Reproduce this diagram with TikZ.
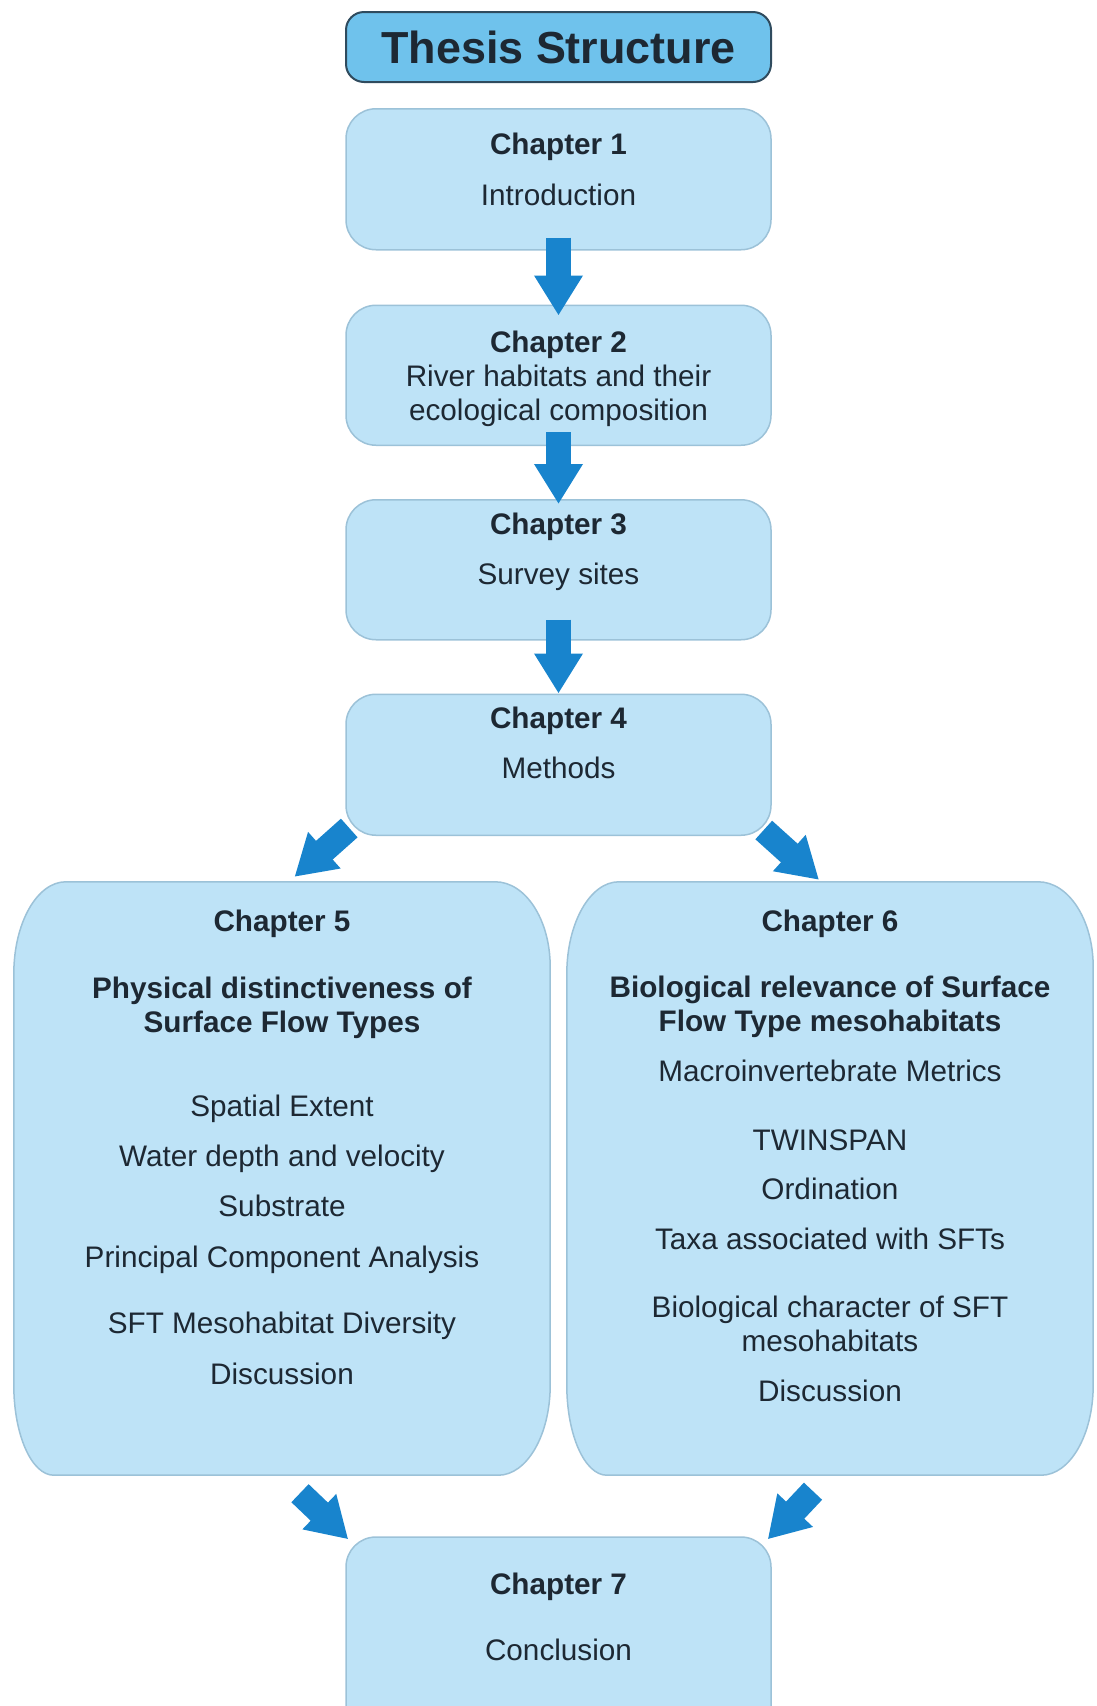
\documentclass[tikz,border=0pt]{standalone}
\usepackage{fontspec}
\setmainfont{Liberation Sans}
\usetikzlibrary{positioning, arrows.meta, backgrounds}

\definecolor{boxfill}{HTML}{BEE3F7}
\definecolor{boxline}{HTML}{9CC2D8}
\definecolor{titlefill}{HTML}{6FC2EC}
\definecolor{titleline}{HTML}{2F4B5E}
\definecolor{arrowblue}{HTML}{1884CD}
\definecolor{textdark}{HTML}{1D2833}

\tikzset{
  chapbox/.style={draw=boxline, line width=1.5pt, fill=boxfill, rectangle, rounded corners=30pt,
    minimum width=425pt, minimum height=140pt, inner sep=0pt, align=center, text=textdark,
    font=\fontsize{29.7}{34}\selectfont},
  bigbox/.style={rectangle, minimum width=536pt, minimum height=593pt, inner sep=0pt,
    align=center, text=textdark, font=\fontsize{29.7}{34}\selectfont},
  bigshape/.style={draw=boxline, line width=1.5pt, fill=boxfill},
  titlebox/.style={draw=titleline, line width=2pt, fill=titlefill, rectangle, rounded corners=18pt,
    minimum width=425pt, minimum height=70pt, inner sep=0pt, text=textdark,
    font=\fontsize{44.9}{50}\selectfont\bfseries},
  bigarrow/.style={draw=arrowblue, line width=25pt, -{Triangle[length=40pt, width=46pt]}},
}

\begin{document}
\begin{tikzpicture}[x=1pt, y=-1pt]
        \useasboundingbox (0,0) rectangle (1096,1706);
        \clip (0,0) rectangle (1096,1706);

        % Nodes
        \node[titlebox] (title) at (558.5,47) {Thesis Structure};
        \node[chapbox, minimum height=141pt, text depth=20pt, below=25pt of title] (ch1) {{\bfseries Chapter 1}\\[17pt]Introduction};
        \node[chapbox, text height=97pt, below=54pt of ch1] (ch2) {{\bfseries Chapter 2}\\River habitats and their\\ecological composition};
        \node[chapbox, text depth=42pt, below=53pt of ch2] (ch3) {{\bfseries Chapter 3}\\[16pt]Survey sites};
        \node[chapbox, minimum height=141pt, text depth=45pt, below=53pt of ch3] (ch4) {{\bfseries Chapter 4}\\[16pt]Methods};
        \node[bigbox, text depth=62pt] (ch5) at (282,1178.5) {{\bfseries Chapter 5}\\[33pt]
            {\bfseries Physical distinctiveness of}\\{\bfseries Surface Flow Types}\\[50pt]
            Spatial Extent\\[16pt]Water depth and velocity\\[16pt]Substrate\\[17pt]
            Principal Component Analysis\\[32pt]SFT Mesohabitat Diversity\\[17pt]Discussion};
        \node[bigbox, minimum width=526pt, text depth=46pt] (ch6) at (830,1178.5) {{\bfseries Chapter 6}\\[32pt]
            {\bfseries Biological relevance of Surface}\\{\bfseries Flow Type mesohabitats}\\[16pt]
            Macroinvertebrate Metrics\\[35pt]TWINSPAN\\[15pt]Ordination\\[16pt]
            Taxa associated with SFTs\\[34pt]Biological character of SFT\\mesohabitats\\[16pt]Discussion};
        \node[chapbox, minimum height=200pt, text depth=40pt] (ch7) at (558.5,1637) {{\bfseries Chapter 7}\\[32pt]Conclusion};

        % Rounded outlines of the two large boxes
        \begin{pgfonlayer}{background}
          \foreach \n in {ch5,ch6}
            \draw[bigshape] ([xshift=52pt]\n.north west) -- ([xshift=-55pt]\n.north east)
              arc[start angle=90, end angle=0, x radius=55pt, y radius=85pt]
              -- ([yshift=90pt]\n.south east)
              arc[start angle=0, end angle=-90, x radius=52pt, y radius=90pt]
              -- ([xshift=40pt]\n.south west)
              arc[start angle=270, end angle=180, x radius=40pt, y radius=90pt]
              -- ([yshift=-92pt]\n.north west)
              arc[start angle=180, end angle=90, x radius=52pt, y radius=92pt]
              -- cycle;
        \end{pgfonlayer}

        % Arrows
        \draw[bigarrow, shorten <=-13pt, shorten >=-11pt] (ch1) -- (ch2);
        \draw[bigarrow, shorten <=-14pt, shorten >=-5pt] (ch2) -- (ch3);
        \draw[bigarrow, shorten <=-21pt, shorten >=0pt] (ch3) -- (ch4);
        \draw[bigarrow] ([shift={(4,-8)}]ch4.south west) -- ([shift={(12.5,-5)}]ch5.north);
        \draw[bigarrow] ([shift={(-8,-6)}]ch4.south east) -- ([shift={(-11,-2)}]ch6.north);
        \draw[bigarrow] ([shift={(18,18)}]ch5.south) -- ([shift={(3,3)}]ch7.north west);
        \draw[bigarrow] ([shift={(-17,16)}]ch6.south) -- ([shift={(-4,3)}]ch7.north east);
    \end{tikzpicture}
\end{document}
